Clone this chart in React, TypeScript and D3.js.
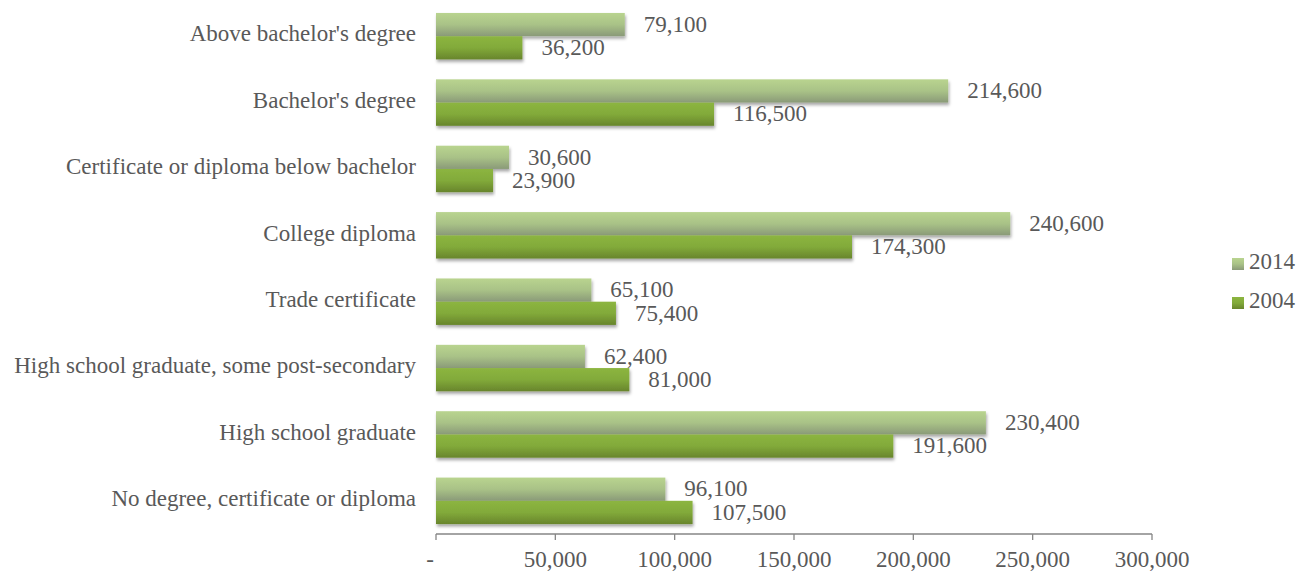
import React from "react";
import * as d3 from "d3";

const categories = [
  "Above bachelor's degree",
  "Bachelor's degree",
  "Certificate or diploma below bachelor",
  "College diploma",
  "Trade certificate",
  "High school graduate, some post-secondary",
  "High school graduate",
  "No degree, certificate or diploma",
];
const values2014 = [79100, 214600, 30600, 240600, 65100, 62400, 230400, 96100];
const values2004 = [36200, 116500, 23900, 174300, 75400, 81000, 191600, 107500];
const seriesNames = ["2014", "2004"];
const xTicks = [0, 50000, 100000, 150000, 200000, 250000, 300000];

const W = 1307;
const H = 573;
const FONT = "'Liberation Serif', 'Times New Roman', serif";
const TXT = "#595959";
const FS = 23;

export default function App() {
  const x = d3.scaleLinear().domain([0, 300000]).range([436, 1152]);
  const y = d3.scaleBand<string>().domain(categories).range([3, 534]).paddingInner(0.3).paddingOuter(0.15);
  const sub = d3.scaleBand<string>().domain(seriesNames).range([0, y.bandwidth()]);
  const fmt = d3.format(",");
  const series = [values2014, values2004];
  const grads = ["g2014", "g2004"];

  return (
    <svg width={W} height={H} style={{ position: "absolute", left: 0, top: 0, background: "#fff" }}>
      <defs>
        <linearGradient id="g2014" x1="0" y1="0" x2="0" y2="1">
          <stop offset="0" stopColor="#b9d48f" />
          <stop offset="0.5" stopColor="#a9c287" />
          <stop offset="1" stopColor="#8a9a78" />
        </linearGradient>
        <linearGradient id="g2004" x1="0" y1="0" x2="0" y2="1">
          <stop offset="0" stopColor="#8cb540" />
          <stop offset="0.5" stopColor="#82aa3a" />
          <stop offset="1" stopColor="#68852c" />
        </linearGradient>
        <filter id="shadow" x="-5%" y="-20%" width="110%" height="160%">
          <feDropShadow dx="1" dy="2.5" stdDeviation="1.8" floodColor="#000" floodOpacity="0.35" />
        </filter>
      </defs>
      {categories.map((c, i) => (
        <g key={c}>
          {series.map((vals, s) => {
            const y0 = (y(c) as number) + (sub(seriesNames[s]) as number);
            const h = sub.bandwidth();
            return (
              <g key={s}>
                <rect x={x(0)} y={y0} width={x(vals[i]) - x(0)} height={h} fill={`url(#${grads[s]})`} filter="url(#shadow)" />
                <text x={x(vals[i]) + 19} y={y0 + h / 2 + 2} dominantBaseline="middle" fontFamily={FONT} fontSize={FS} fill={TXT}>
                  {fmt(vals[i])}
                </text>
              </g>
            );
          })}
          <text x={416} y={(y(c) as number) + y.bandwidth() / 2} dominantBaseline="middle" textAnchor="end" fontFamily={FONT} fontSize={FS} fill={TXT}>
            {c}
          </text>
        </g>
      ))}
      <line x1={x(0)} x2={x(300000)} y1={534} y2={534} stroke="#868686" strokeWidth={1.3} />
      {xTicks.map((t) => (
        <g key={t}>
          <line x1={x(t)} x2={x(t)} y1={534} y2={540} stroke="#868686" strokeWidth={1.3} />
          <text x={x(t) - (t === 0 ? 6 : 0)} y={562} textAnchor="middle" dominantBaseline="middle" fontFamily={FONT} fontSize={FS} fill={TXT}>
            {t === 0 ? "-" : fmt(t)}
          </text>
        </g>
      ))}
      {seriesNames.map((s, k) => (
        <g key={s}>
          <rect x={1232} y={258 + k * 39} width={12} height={12} fill={`url(#${grads[k]})`} />
          <text x={1249} y={264 + k * 39} dominantBaseline="middle" fontFamily={FONT} fontSize={FS} fill={TXT}>
            {s}
          </text>
        </g>
      ))}
    </svg>
  );
}
